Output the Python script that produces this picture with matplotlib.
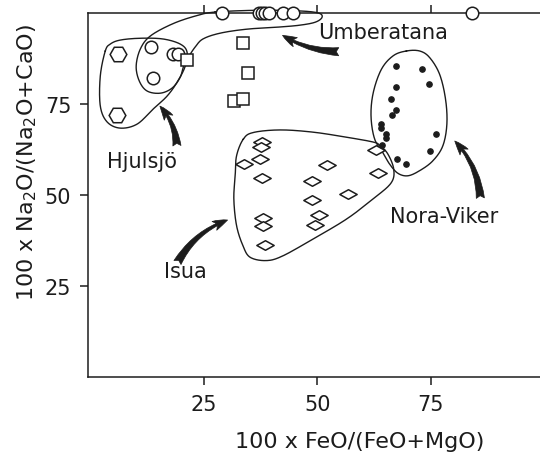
import numpy as np
import matplotlib.pyplot as plt
from matplotlib.path import Path
from matplotlib.patches import FancyArrowPatch

# Hjulsjö (hexagons)
hex_x = [6.2, 5.9]
hex_y = [88.7, 72.0]

# Umberatana (circles); the top row sits on the upper frame
circ_x = [13.4, 13.9, 18.3, 19.2, 29.0, 37.2, 37.9, 38.5, 39.3, 42.5, 44.7, 84.0]
circ_y = [90.6, 82.1, 88.7, 88.7, 100, 100, 100, 100, 100, 100, 100, 100]

# squares
sq_x = [21.2, 33.7, 34.7, 31.6, 33.7]
sq_y = [87.1, 91.9, 83.5, 75.9, 76.4]

# Isua (diamonds)
dia_x = [37.7, 37.5, 37.4, 33.8, 37.9, 52.0, 48.9, 56.8, 48.7, 50.4, 49.5,
         38.1, 38.1, 38.5, 63.0, 63.4]
dia_y = [64.6, 63.3, 59.9, 58.5, 54.7, 58.3, 54.0, 50.3, 48.6, 44.6, 41.8,
         43.7, 41.4, 36.3, 62.4, 56.2]

# Nora-Viker (dots)
dot_x = [67.4, 73.1, 74.6, 67.3, 66.3, 67.2, 66.5, 64.1, 64.1, 65.1, 65.2,
         76.2, 64.3, 74.7, 67.5, 69.4]
dot_y = [85.5, 84.6, 80.6, 79.6, 76.4, 73.4, 72.1, 69.6, 68.3, 66.8, 65.8,
         66.8, 63.8, 62.2, 59.9, 58.5]

# hand drawn outlines of the groups
hjul_line = [(3.3, 89.6), (2.2, 82.7), (2.2, 74.5), (3.7, 70.1), (6.6, 68.4),
             (10.3, 69.5), (13.8, 73.6), (16.9, 77.2), (19.1, 81.0), (20.9, 85.4),
             (21.3, 89.3), (19.8, 91.5), (16.0, 92.9), (11.0, 93.1), (6.6, 92.6),
             (4.4, 91.5)]
umb_line = [(27.5, 100.3), (37.4, 100.8), (46.2, 100.6), (50.3, 100.0), (51.0, 98.8),
            (49.5, 97.5), (46.2, 96.7), (41.8, 96.2), (34.5, 95.6), (28.6, 94.5),
            (24.8, 92.9), (23.1, 90.7), (22.0, 88.7), (20.7, 86.0), (19.8, 82.4),
            (18.0, 79.4), (15.4, 78.0), (12.5, 78.6), (10.8, 81.3), (10.1, 85.4),
            (11.0, 90.1), (13.2, 93.7), (18.0, 97.0), (23.1, 99.2)]
isua_line = [(33.7, 65.4), (35.9, 67.2), (41.8, 67.9), (49.0, 67.3), (56.4, 65.9),
             (62.2, 64.6), (63.7, 63.7), (65.5, 61.3), (66.8, 57.1), (66.2, 53.3),
             (62.2, 48.9), (56.4, 43.4), (49.0, 37.9), (42.4, 33.3), (38.8, 32.0),
             (35.2, 32.9), (33.6, 36.1), (32.2, 41.6), (31.6, 48.9), (31.9, 55.3),
             (32.2, 60.8)]
nora_line = [(69.6, 89.6), (72.5, 89.6), (74.7, 87.8), (76.9, 83.2), (78.2, 76.4),
             (78.5, 69.5), (77.6, 63.5), (75.4, 59.4), (72.5, 56.7), (69.9, 55.3),
             (67.7, 56.0), (65.9, 58.5), (64.6, 61.3), (62.6, 65.4), (61.8, 71.7),
             (62.3, 78.2), (64.1, 84.6), (66.7, 88.3)]

# labels: text, position, arrow tail, arrow head, bend
labels = [
    ("Umberatana", (50.1, 94.8), (55.3, 89.4), (41.8, 94.3), -0.15),
    ("Hjulsjö", (3.7, 59.4), (19.1, 62.8), (14.9, 75.0), 0.2),
    ("Isua", (16.3, 29.1), (18.9, 30.8), (30.8, 43.4), -0.2),
    ("Nora-Viker", (65.9, 44.2), (85.9, 48.4), (79.8, 65.4), 0.2),
]

ink = "#1c1c1c"


def closed_curve(pts, n=20):
    # periodic Catmull-Rom through the outline points
    p = np.array(pts, dtype=float)
    m = len(p)
    out = []
    for i in range(m):
        p0, p1, p2, p3 = p[i - 1], p[i], p[(i + 1) % m], p[(i + 2) % m]
        t = np.linspace(0, 1, n, endpoint=False)[:, None]
        seg = 0.5 * ((2 * p1) + (-p0 + p2) * t + (2 * p0 - 5 * p1 + 4 * p2 - p3) * t ** 2
                     + (-p0 + 3 * p1 - 3 * p2 + p3) * t ** 3)
        out.append(seg)
    out = np.vstack(out + [out[0][:1]])
    return out[:, 0], out[:, 1]


plt.rcParams["font.family"] = ["DejaVu Sans"]

fig = plt.figure(figsize=(5.4, 4.56), dpi=100)
ax = fig.add_axes([0.163, 0.171, 0.837, 0.798])
ax.set_xlim(-0.5, 99)
ax.set_ylim(0, 100)

for line in (hjul_line, umb_line, isua_line, nora_line):
    cx, cy = closed_curve(line)
    ax.plot(cx, cy, color=ink, lw=1.0, clip_on=False, zorder=2)

diamond = Path([(-1, 0), (0, 0.55), (1, 0), (0, -0.55), (-1, 0)],
               [Path.MOVETO, Path.LINETO, Path.LINETO, Path.LINETO, Path.CLOSEPOLY])

ax.plot(hex_x, hex_y, ls="none", marker="H", ms=12, mfc="white", mec=ink, mew=1.1, zorder=3)
ax.plot(circ_x, circ_y, ls="none", marker="o", ms=9, mfc="white", mec=ink, mew=1.1,
        clip_on=False, zorder=3)
ax.plot(sq_x, sq_y, ls="none", marker="s", ms=8.5, mfc="white", mec=ink, mew=1.1, zorder=3)
ax.plot(dia_x, dia_y, ls="none", marker=diamond, ms=12.5, mfc="white", mec=ink, mew=1.1, zorder=3)
ax.plot(dot_x, dot_y, ls="none", marker="o", ms=3.8, mfc=ink, mec=ink, zorder=3)

for text, pos, tail, head, rad in labels:
    ax.text(pos[0], pos[1], text, fontsize=15, color=ink, ha="left", va="center")
    arr = FancyArrowPatch(tail, head, connectionstyle="arc3,rad=%s" % rad,
                          arrowstyle="fancy,head_length=0.8,head_width=0.55,tail_width=0.45",
                          mutation_scale=13, color=ink, lw=0.5, zorder=4)
    ax.add_patch(arr)

ax.spines["right"].set_visible(False)
for s in ("left", "bottom", "top"):
    ax.spines[s].set_linewidth(1.1)
    ax.spines[s].set_color(ink)

ax.set_xticks([25, 50, 75])
ax.set_yticks([25, 50, 75])
ax.tick_params(axis="both", direction="out", length=6, width=1.1, colors=ink,
               labelsize=15, pad=6)
ax.tick_params(axis="x", top=True, labeltop=False)

fig.text(0.667, 0.03, "100 x FeO/(FeO+MgO)", fontsize=16, color=ink, ha="center", va="center")
fig.text(0.05, 0.643, "100 x Na$_2$O/(Na$_2$O+CaO)", fontsize=16, color=ink,
         rotation=90, ha="center", va="center")

fig.savefig("out.png", dpi=100)
